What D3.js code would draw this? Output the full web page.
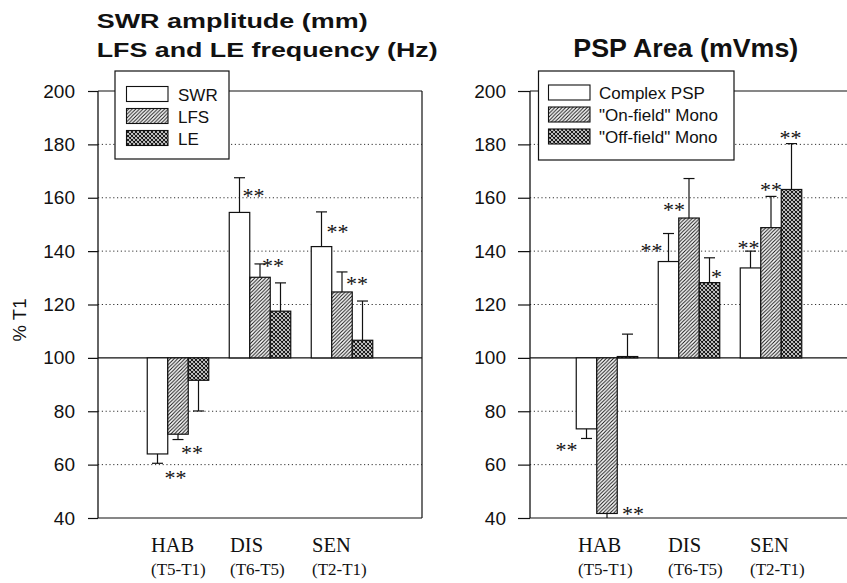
<!DOCTYPE html>
<html>
<head>
<meta charset="utf-8">
<script src="https://cdn.jsdelivr.net/npm/d3@7"></script>
<style>
  html, body { margin: 0; padding: 0; background: #fff; }
  svg { display: block; }
</style>
</head>
<body>
<svg id="chart" width="847" height="583"></svg>
<script>
// ---------------- DATA ----------------
const categories = ["HAB", "DIS", "SEN"];
const periods = ["(T5-T1)", "(T6-T5)", "(T2-T1)"];
const yTicks = [40, 60, 80, 100, 120, 140, 160, 180, 200];

// Left panel
const leftSeries = ["SWR", "LFS", "LE"];
const swrValues = [64.0, 154.5, 141.7];
const swrErrors = [3.5, 13.0, 13.0];
const swrSig = ["**", "**", "**"];
const lfsValues = [71.4, 130.2, 124.7];
const lfsErrors = [2.0, 5.0, 7.5];
const lfsSig = ["**", "**", "**"];
const leValues = [91.6, 117.5, 106.6];
const leErrors = [11.5, 10.6, 14.7];
const leSig = ["", "", ""];

// Right panel
const rightSeries = ["Complex PSP", "\"On-field\" Mono", "\"Off-field\" Mono"];
const complexValues = [73.4, 136.1, 133.7];
const complexErrors = [3.6, 10.5, 6.3];
const complexSig = ["**", "**", "**"];
const onFieldValues = [41.7, 152.4, 148.8];
const onFieldErrors = [2.0, 14.8, 11.7];
const onFieldSig = ["**", "**", "**"];
const offFieldValues = [100.5, 128.2, 163.1];
const offFieldErrors = [8.4, 9.3, 17.2];
const offFieldSig = ["", "*", "**"];

// ---------------- LAYOUT (pixel offsets of significance marks) ----------------
const leftStarOffsets = [
  [[18, 11], [14, 14], [16, 16]],
  [[14, 9], [13, -2], [15, 8]],
  [[0, 0], [0, 0], [0, 0]]
];
const rightStarOffsets = [
  [[-20, 8], [-17, 13], [-2, -7]],
  [[26, -9], [-15, 27], [0, -10]],
  [[0, 0], [7, 15], [-1, -10]]
];

// ---------------- DRAW ----------------
const svg = d3.select("#chart");
const SANS = "'Liberation Sans', Arial, Helvetica, sans-serif";
const SERIF = "'Liberation Serif', 'Times New Roman', serif";
const INK = "#111";

const defs = svg.append("defs");
const hatch = defs.append("pattern").attr("id", "hatch")
  .attr("patternUnits", "userSpaceOnUse").attr("width", 3.6).attr("height", 3.6);
hatch.append("rect").attr("width", 3.6).attr("height", 3.6).attr("fill", "#fff");
hatch.append("path").attr("d", "M-0.9,0.9 l1.8,-1.8 M0,3.6 l3.6,-3.6 M2.7,4.5 l1.8,-1.8")
  .attr("stroke", INK).attr("stroke-width", 1.0);
const cross = defs.append("pattern").attr("id", "cross")
  .attr("patternUnits", "userSpaceOnUse").attr("width", 4).attr("height", 4);
cross.append("rect").attr("width", 4).attr("height", 4).attr("fill", "#fff");
cross.append("path").attr("d", "M-1,1 l2,-2 M0,4 l4,-4 M3,5 l2,-2 M-1,3 l2,2 M0,0 l4,4 M3,-1 l2,2")
  .attr("stroke", INK).attr("stroke-width", 1.1);
const fills = ["#fff", "url(#hatch)", "url(#cross)"];

const y = d3.scaleLinear().domain([40, 200]).range([518, 91]);

function panel(opts) {
  const { x0, x1, xRange, clipId, series, values, errors, sigs, starOffsets, legend, tickSize, tickPad, rightBorder, labelShift } = opts;
  const x = d3.scaleLinear().domain([0, 4]).range(xRange);
  const barW = 20.5;
  const g = svg.append("g");

  defs.append("clipPath").attr("id", clipId).append("rect")
    .attr("x", x0).attr("y", y(200)).attr("width", x1 - x0).attr("height", y(40) - y(200));

  // gridlines (dotted)
  g.append("g").selectAll("line").data(yTicks.filter(v => v !== 40 && v !== 100 && v !== 200))
    .join("line")
    .attr("x1", x0).attr("x2", x1).attr("y1", d => y(d)).attr("y2", d => y(d))
    .attr("stroke", "#333").attr("stroke-width", 1).attr("stroke-dasharray", "1.2,2.6");

  // frame
  g.append("line").attr("x1", x0).attr("x2", x1).attr("y1", y(200)).attr("y2", y(200)).attr("stroke", INK).attr("stroke-width", 1.2);
  g.append("line").attr("x1", x0).attr("x2", x1).attr("y1", y(40)).attr("y2", y(40)).attr("stroke", INK).attr("stroke-width", 1.2);
  g.append("line").attr("x1", x0).attr("x2", x0).attr("y1", y(200)).attr("y2", y(40)).attr("stroke", INK).attr("stroke-width", 1.3);
  if (rightBorder) g.append("line").attr("x1", x1).attr("x2", x1).attr("y1", y(200)).attr("y2", y(40)).attr("stroke", INK).attr("stroke-width", 1.2);
  g.append("line").attr("x1", x0).attr("x2", x1).attr("y1", y(100)).attr("y2", y(100)).attr("stroke", INK).attr("stroke-width", 1.3);

  // axis
  const axis = d3.axisLeft(y).tickValues(yTicks).tickSize(tickSize).tickPadding(tickPad);
  const ag = g.append("g").attr("transform", `translate(${x0},0)`).call(axis);
  ag.select(".domain").remove();
  ag.selectAll(".tick line").attr("stroke", INK).attr("stroke-width", 1.2);
  ag.selectAll(".tick text").attr("font-family", SANS).attr("font-size", 19).attr("fill", INK);

  // bars
  const bars = [];
  series.forEach((s, j) => {
    categories.forEach((c, i) => {
      bars.push({ j, i, v: values[j][i], e: errors[j][i], sig: sigs[j][i], off: starOffsets[j][i],
        cx: x(i + 1) + (j - 1) * barW });
    });
  });
  const bg = g.append("g").attr("clip-path", `url(#${clipId})`);
  bg.selectAll("rect").data(bars).join("rect")
    .attr("x", d => d.cx - barW / 2)
    .attr("width", barW)
    .attr("y", d => Math.min(y(d.v), y(100)))
    .attr("height", d => Math.abs(y(d.v) - y(100)))
    .attr("fill", d => fills[d.j])
    .attr("stroke", INK).attr("stroke-width", 1.2);

  // error bars
  const errEnd = d => d.v >= 100 ? d.v + d.e : d.v - d.e;
  bg.selectAll("line.err").data(bars).join("line").attr("class", "err")
    .attr("x1", d => d.cx).attr("x2", d => d.cx)
    .attr("y1", d => y(d.v)).attr("y2", d => y(errEnd(d)))
    .attr("stroke", INK).attr("stroke-width", 1.2);
  bg.selectAll("line.cap").data(bars).join("line").attr("class", "cap")
    .attr("x1", d => d.cx - 5.5).attr("x2", d => d.cx + 5.5)
    .attr("y1", d => y(errEnd(d))).attr("y2", d => y(errEnd(d)))
    .attr("stroke", INK).attr("stroke-width", 1.2);

  // significance marks
  g.selectAll("text.sig").data(bars.filter(d => d.sig)).join("text").attr("class", "sig")
    .attr("x", d => d.cx + d.off[0])
    .attr("y", d => y(errEnd(d)) + d.off[1] + 11)
    .attr("text-anchor", "middle")
    .attr("font-family", SERIF).attr("font-size", 22).attr("fill", INK)
    .text(d => d.sig);

  // category labels
  categories.forEach((c, i) => {
    const sx = x(i + 1) - 27 + labelShift[i];
    g.append("text").attr("x", sx).attr("y", 551.5)
      .attr("font-family", SERIF).attr("font-size", 20.5).attr("fill", INK).text(c);
    g.append("text").attr("x", sx).attr("y", 575)
      .attr("font-family", SERIF).attr("font-size", 17).attr("fill", INK).text(periods[i]);
  });

  // legend
  const lg = g.append("g");
  lg.append("rect").attr("x", legend.x).attr("y", legend.y).attr("width", legend.w).attr("height", legend.h)
    .attr("fill", "#fff").attr("stroke", INK).attr("stroke-width", 1.2);
  series.forEach((s, j) => {
    const ry = legend.rowY + j * 22;
    lg.append("rect").attr("x", legend.sx).attr("y", ry).attr("width", 41.5).attr("height", 15)
      .attr("fill", fills[j]).attr("stroke", INK).attr("stroke-width", 1.1);
    lg.append("text").attr("x", legend.tx).attr("y", ry + 14)
      .attr("font-family", SANS).attr("font-size", 17).attr("fill", INK).text(s);
  });
}

panel({
  x0: 98, x1: 422, xRange: [96, 424], clipId: "clipL",
  series: leftSeries,
  values: [swrValues, lfsValues, leValues],
  errors: [swrErrors, lfsErrors, leErrors],
  sigs: [swrSig, lfsSig, leSig],
  starOffsets: leftStarOffsets,
  legend: { x: 115, y: 71, w: 114, h: 88, sx: 126.5, tx: 178, rowY: 86.5 },
  tickSize: 10, tickPad: 13, rightBorder: true,
  labelShift: [0, -3, -3]
});

panel({
  x0: 530, x1: 847, xRange: [525, 853], clipId: "clipR",
  series: rightSeries,
  values: [complexValues, onFieldValues, offFieldValues],
  errors: [complexErrors, onFieldErrors, offFieldErrors],
  sigs: [complexSig, onFieldSig, offFieldSig],
  starOffsets: rightStarOffsets,
  legend: { x: 538.5, y: 71, w: 195.5, h: 89, sx: 548.5, tx: 599, rowY: 85 },
  tickSize: 12, tickPad: 12, rightBorder: false,
  labelShift: [-2, 6, 6]
});

// y-axis title
svg.append("text").attr("transform", "translate(26,320) rotate(-90)")
  .attr("text-anchor", "middle").attr("font-family", SANS).attr("font-size", 18.5).attr("fill", INK)
  .text("% T1");

// titles
svg.append("text").attr("x", 96.7).attr("y", 27.7).attr("font-family", SANS).attr("font-weight", "bold")
  .attr("font-size", 20.5).attr("textLength", 271).attr("lengthAdjust", "spacingAndGlyphs").attr("fill", INK)
  .text("SWR amplitude (mm)");
svg.append("text").attr("x", 96.7).attr("y", 56.7).attr("font-family", SANS).attr("font-weight", "bold")
  .attr("font-size", 20.5).attr("textLength", 341).attr("lengthAdjust", "spacingAndGlyphs").attr("fill", INK)
  .text("LFS and LE frequency (Hz)");
svg.append("text").attr("x", 573.3).attr("y", 56.7).attr("font-family", SANS).attr("font-weight", "bold")
  .attr("font-size", 25).attr("textLength", 225).attr("lengthAdjust", "spacingAndGlyphs").attr("fill", INK)
  .text("PSP Area (mVms)");
</script>
</body>
</html>
